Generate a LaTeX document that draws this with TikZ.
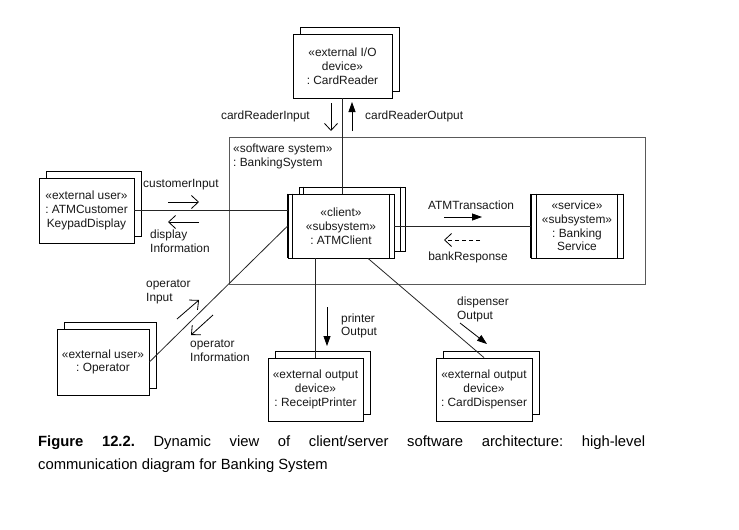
\documentclass[tikz,border=0pt]{standalone}
\usepackage{fontspec}
\setmainfont{Liberation Sans}
\usetikzlibrary{arrows.meta}
\frenchspacing
\begin{document}
\begin{tikzpicture}[x=1pt,y=-1pt,
  lbl/.style={font=\fontsize{11.9}{13.8}\selectfont, align=left, inner sep=0pt, text=black!90},
  obj/.style 2 args={draw=black, line width=0.8pt, fill=white, minimum width=#1pt, minimum height=#2pt, inner sep=0pt, align=center, font=\fontsize{11.9}{13.8}\selectfont, text=black!90},
  conn/.style={draw=black!85, line width=0.8pt},
  bar/.style={draw=black, line width=0.6pt},
  thickside/.style={draw=black, line width=1.6pt},
  openarr/.style={line width=0.8pt, -{Straight Barb[length=7pt,width=13pt]}},
  fillarr/.style={line width=0.8pt, -{Triangle[length=10pt,width=7pt]}},
]
\fill[white] (0,0) rectangle (739,530);
\useasboundingbox (0,0) rectangle (739,530);

% system boundary
\node[draw=black!65, line width=0.8pt, minimum width=416pt, minimum height=147pt, inner sep=0pt] (sys) at (437,210.5) {};
\node[lbl, anchor=west] (syslbl) at (233,156.5) {«software system»\\: BankingSystem};

% CardReader
\node[obj={99}{64}] (crB) at (349.5,59) {};
\node[obj={99}{64}] (cr) at (342.5,66) {«external I/O\\device»\\: CardReader};

% Keypad display
\node[obj={95}{65}] (kpB) at (93.5,203.5) {};
\node[obj={95}{65}] (kp) at (86.5,210.5) {«external user»\\: ATMCustomer\\KeypadDisplay};

% Operator
\node[obj={92}{66}] (opB) at (110,355) {};
\node[obj={92}{66}] (op) at (103,362) {«external user»\\: Operator};

% ATMClient
\node[obj={106}{64}] (acB) at (352,219) {};
\draw[bar] ([xshift=5pt]acB.north west) -- ([xshift=5pt]acB.south west);
\draw[bar] ([xshift=-5pt]acB.north east) -- ([xshift=-5pt]acB.south east);
\node[obj={106}{64}] (ac) at (341,226) {«client»\\«subsystem»\\: ATMClient};
\draw[bar] ([xshift=5pt]ac.north west) -- ([xshift=5pt]ac.south west);
\draw[bar] ([xshift=-5pt]ac.north east) -- ([xshift=-5pt]ac.south east);
\draw[thickside] (ac.north west) -- (ac.south west);

% Banking Service
\node[obj={92}{64}] (bs) at (577,226) {«service»\\«subsystem»\\: Banking\\Service};
\draw[bar] ([xshift=6pt]bs.north west) -- ([xshift=6pt]bs.south west);
\draw[bar] ([xshift=-6pt]bs.north east) -- ([xshift=-6pt]bs.south east);
\draw[thickside] (bs.north west) -- (bs.south west);
\draw[thickside] (bs.north east) -- (bs.south east);

% ReceiptPrinter
\node[obj={95}{63}] (rpB) at (322.5,382.5) {};
\node[obj={95}{63}] (rp) at (315.5,389.5) {«external output\\device»\\: ReceiptPrinter};

% CardDispenser
\node[obj={96}{63}] (cdB) at (491,382.5) {};
\node[obj={96}{63}] (cd) at (484,389.5) {«external output\\device»\\: CardDispenser};

% connectors
\draw[conn] (cr.south) -- (cr.south |- ac.north);
\draw[conn] (kp.east) -- (kp.east -| ac.west);
\draw[conn] (ac.east) -- (bs.west);
\draw[conn] (op.east) -- (ac.west);
\draw[conn] (rp.north) -- (rp.north |- ac.south);
\draw[conn] ([xshift=27pt]ac.south) -- (cd.north);

% message arrows and labels
\draw[openarr] (331,103) -- (331,131);
\node[lbl, anchor=east] (l1) at (310,116) {cardReaderInput};
\draw[fillarr] (352,131) -- (352,102);
\node[lbl, anchor=west] (l2) at (365,116) {cardReaderOutput};

\draw[openarr] (168,202) -- (199,202);
\node[lbl, anchor=west] (l3) at (143,185) {customerInput};
\draw[openarr] (199,222) -- (168,222);
\node[lbl, anchor=west] (l4) at (150,241.5) {display\\Information};

\draw[fillarr] (444,217) -- (482,217);
\node[lbl] (l5) at (471,205) {ATMTransaction};
\draw[line width=0.8pt, dash pattern=on 4pt off 3pt, -{Straight Barb[length=7pt,width=13pt]}] (480,240) -- (444,240);
\node[lbl] (l6) at (468,257) {bankResponse};

\draw[openarr] (177,319) -- (199,300);
\node[lbl, anchor=west] (l7) at (146,291.5) {operator\\Input};
\draw[openarr] (213,315) -- (191,335);
\node[lbl, anchor=west] (l8) at (190,350.5) {operator\\Information};

\draw[fillarr] (327,307) -- (327,346);
\node[lbl, anchor=west] (l9) at (341,326) {printer\\Output};
\draw[fillarr] (460,323) -- (487,344);
\node[lbl, anchor=west] (l10) at (457,309.5) {dispenser\\Output};

% caption
\node[anchor=base west, inner sep=0pt, font=\fontsize{14.8}{23}\selectfont] (cap) at (38,446)
  {\parbox[t]{607pt}{\textbf{Figure 12.2.} Dynamic view of client/server software architecture: high-level\linebreak communication diagram for Banking System}};
\end{tikzpicture}
\end{document}
